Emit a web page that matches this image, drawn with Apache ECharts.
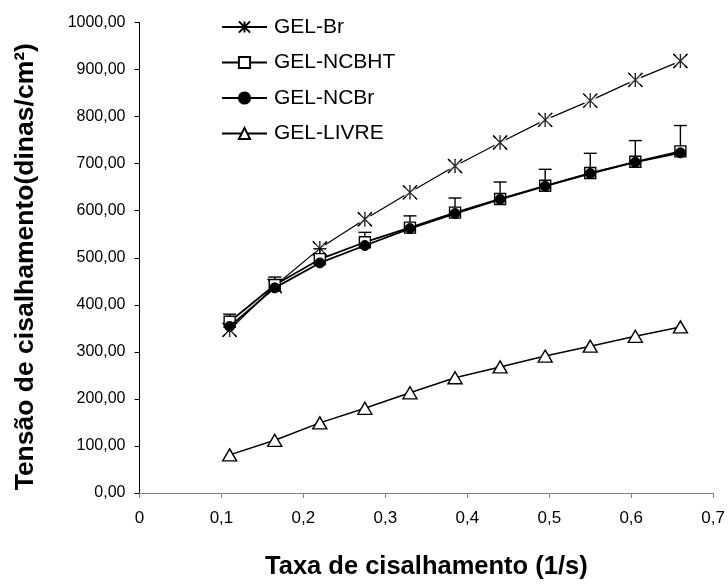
<!DOCTYPE html>
<html><head><meta charset="utf-8">
<script src="https://cdn.jsdelivr.net/npm/echarts@6/dist/echarts.min.js"></script>
<style>html,body{margin:0;padding:0;background:#fff}#c{width:728px;height:585px}</style>
</head><body><div id="c"></div><script>
// Data
const shearRate = [0.11, 0.165, 0.22, 0.275, 0.33, 0.385, 0.44, 0.495, 0.55, 0.605, 0.66];
const gelBr     = [347, 440, 520, 582, 639, 695, 745, 793, 834, 878, 918];
const gelNCBHT  = [364, 442, 497, 533, 564, 596, 625, 653, 680, 704, 726];
const errNCBHT  = [16, 17, 22, 21, 25, 31, 36, 35, 42, 45, 55];
const gelNCBr   = [354, 436, 489, 526, 562, 594, 624, 652, 679, 703, 723];
const gelLivre  = [81, 112, 149, 180, 213, 245, 268, 291, 312, 333, 353];
const seriesNames = ['GEL-Br', 'GEL-NCBHT', 'GEL-NCBr', 'GEL-LIVRE'];
const xTitle = 'Taxa de cisalhamento (1/s)';
const yTitle = 'Tensão de cisalhamento(dinas/cm²)';

const pairs = ys => shearRate.map((x, i) => [x, ys[i]]);
const FONT = '"Liberation Sans", Arial, sans-serif';
const asterisk = 'path://M0,0L12,12M12,0L0,12M6,0L6,12';

const chart = echarts.init(document.getElementById('c'), null, {renderer: 'canvas'});
chart.setOption({
  backgroundColor: '#fff',
  animation: false,
  textStyle: {fontFamily: FONT, color: '#000'},
  grid: {left: 139.5, top: 22.5, width: 576, height: 476, containLabel: false},
  legend: {
    data: seriesNames,
    orient: 'vertical',
    left: 221, top: 16,
    itemWidth: 45, itemHeight: 14, itemGap: 13.5,
    padding: 0,
    selectedMode: false,
    textStyle: {fontFamily: FONT, fontSize: 21, color: '#000', lineHeight: 22, padding: [0, 0, 0, 2]}
  },
  xAxis: {
    type: 'value', min: 0, max: 0.7, interval: 0.1,
    name: xTitle, nameLocation: 'middle', nameGap: 61,
    nameTextStyle: {fontFamily: FONT, fontSize: 25.5, fontWeight: 'bold', color: '#000'},
    axisLine: {show: true, onZero: false, lineStyle: {color: '#808080', width: 1}},
    axisTick: {show: true, length: 5, lineStyle: {color: '#808080'}},
    splitLine: {show: false},
    axisLabel: {fontFamily: FONT, fontSize: 17, color: '#000', margin: 17,
      formatter: v => v === 0 ? '0' : v.toFixed(1).replace('.', ',')}
  },
  yAxis: {
    type: 'value', min: 0, max: 1000, interval: 100,
    name: yTitle, nameLocation: 'middle', nameGap: 100, nameRotate: 90,
    nameTextStyle: {fontFamily: FONT, fontSize: 26.5, fontWeight: 'bold', color: '#000', padding: [0, 18, 0, 0]},
    axisLine: {show: true, lineStyle: {color: '#000', width: 1}},
    axisTick: {show: true, length: 5, lineStyle: {color: '#000'}},
    splitLine: {show: false},
    axisLabel: {fontFamily: FONT, fontSize: 16, color: '#000', margin: 14,
      formatter: v => v.toFixed(2).replace('.', ',')}
  },
  series: [
    {
      name: 'GEL-Br', type: 'line', z: 1, data: pairs(gelBr),
      symbol: asterisk, symbolSize: 14,
      lineStyle: {color: '#000', width: 1.2},
      itemStyle: {color: '#000', borderColor: '#000', borderWidth: 1.3}
    },
    {
      name: 'brMask', type: 'scatter', z: 2, silent: true, data: pairs(gelBr),
      symbol: 'circle', symbolSize: 13, itemStyle: {color: '#fff'}
    },
    {
      name: 'brMarks', type: 'scatter', z: 3, silent: true, data: pairs(gelBr),
      symbol: asterisk, symbolSize: 14,
      itemStyle: {color: '#000', borderColor: '#000', borderWidth: 1.3}
    },
    {
      name: 'errNCBHT', type: 'custom', z: 4, silent: true,
      data: shearRate.map((x, i) => [x, gelNCBHT[i], errNCBHT[i]]),
      encode: {x: 0, y: 1},
      renderItem: (params, api) => {
        const x = api.value(0), y = api.value(1), e = api.value(2);
        const p0 = api.coord([x, y]), p1 = api.coord([x, y + e]);
        const hw = 6.5;
        return {type: 'group', children: [
          {type: 'line', shape: {x1: p0[0], y1: p0[1], x2: p1[0], y2: p1[1]}, style: {stroke: '#000', lineWidth: 1.4}},
          {type: 'line', shape: {x1: p1[0] - hw, y1: p1[1], x2: p1[0] + hw, y2: p1[1]}, style: {stroke: '#000', lineWidth: 1.4}}
        ]};
      }
    },
    {
      name: 'GEL-NCBHT', type: 'line', z: 5, data: pairs(gelNCBHT),
      symbol: 'rect', symbolSize: 11,
      lineStyle: {color: '#000', width: 1.8},
      itemStyle: {color: '#fff', borderColor: '#000', borderWidth: 1.4}
    },
    {
      name: 'GEL-NCBr', type: 'line', z: 6, data: pairs(gelNCBr),
      symbol: 'circle', symbolSize: 10,
      lineStyle: {color: '#000', width: 1.8},
      itemStyle: {color: '#000', borderColor: '#000', borderWidth: 1}
    },
    {
      name: 'GEL-LIVRE', type: 'line', z: 6, data: pairs(gelLivre),
      symbol: 'triangle', symbolSize: [14, 12],
      lineStyle: {color: '#000', width: 1.5},
      itemStyle: {color: '#fff', borderColor: '#000', borderWidth: 1.4}
    }
  ]
});
</script></body></html>
